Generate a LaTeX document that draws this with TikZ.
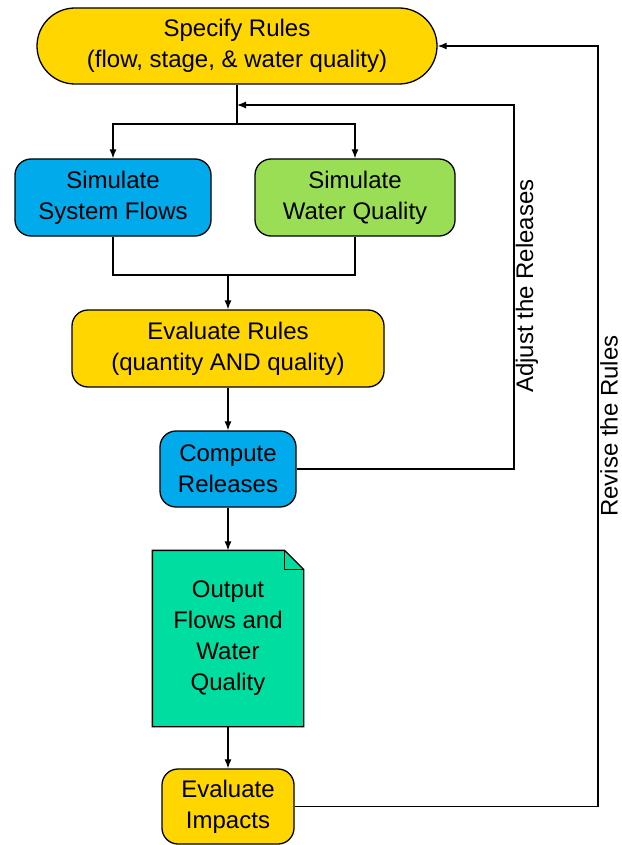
\documentclass[tikz,border=0pt]{standalone}
\usepackage{fontspec}
\setmainfont{Liberation Sans}
\usetikzlibrary{arrows.meta,calc}
\definecolor{cyellow}{RGB}{255,214,0}
\definecolor{cblue}{RGB}{0,170,235}
\definecolor{cgreen}{RGB}{153,222,85}
\definecolor{cteal}{RGB}{0,221,160}
\begin{document}
\begin{tikzpicture}[x=1pt,y=-1pt,
  box/.style={draw=black,line width=1.3pt,rounded corners=16pt,align=center,
    inner sep=0pt,font=\fontsize{24}{31}\selectfont},
  conn/.style={line width=1.2pt,draw=black},
  arr/.style={conn,-{Latex[length=9pt,width=7pt]}},
  lbl/.style={font=\fontsize{24}{31}\selectfont,rotate=90,inner sep=0pt}]
\useasboundingbox (0,0) rectangle (621,845);
\node[box,fill=cyellow,rounded corners=38pt,minimum width=400pt,minimum height=76pt] (spec) at (237,46) {Specify Rules\\(flow, stage, \& water quality)};
\node[box,fill=cblue,minimum width=196pt,minimum height=77pt] (flows) at (113,197.5) {Simulate\\System Flows};
\node[box,fill=cgreen,minimum width=200pt,minimum height=77pt] (wq) at (355,197.5) {Simulate\\Water Quality};
\node[box,fill=cyellow,minimum width=312pt,minimum height=77pt] (eval) at (228,348.5) {Evaluate Rules\\(quantity AND quality)};
\node[box,fill=cblue,minimum width=136pt,minimum height=76pt] (comp) at (228,469) {Compute\\Releases};
\node[box,draw=none,fill=none,minimum width=150pt,minimum height=175pt] (out) at (228,638.5) {};
\draw[line width=1.3pt,fill=cteal] (out.south west) -- (out.north west) -- ($(out.north east)+(-19,0)$) -- ($(out.north east)+(0,19)$) -- (out.south east) -- cycle;
\draw[line width=1.3pt] ($(out.north east)+(-19,0)$) -- ($(out.north east)+(-19,19)$) -- ($(out.north east)+(0,19)$);
\node[align=center,font=\fontsize{24}{31}\selectfont] (outtext) at (out.center) {Output\\Flows and\\Water\\Quality};
\node[box,fill=cyellow,minimum width=132pt,minimum height=75pt] (imp) at (228,806.5) {Evaluate\\Impacts};
\coordinate (split) at (237,124);
\coordinate (join) at (228,275);
\coordinate (adj) at (514,105);
\coordinate (rev) at (598,46);
\draw[conn] (spec.south) -- (split);
\draw[arr] (split) -| (flows.north);
\draw[arr] (split) -| (wq.north);
\draw[conn] (flows.south) |- (join) -| (wq.south);
\draw[arr] (join) -- (eval.north);
\draw[arr] (eval.south) -- (comp.north);
\draw[arr] (comp.south) -- (out.north);
\draw[arr] (out.south) -- (imp.north);
\draw[arr] (comp.east) -| (adj) -- (spec.south |- adj);
\draw[arr] (imp.east) -| (rev) -- (spec.east);
\node[lbl] (adjlbl) at (527,286) {Adjust the Releases};
\node[lbl] (revlbl) at (609,426) {Revise the Rules};
\end{tikzpicture}
\end{document}
